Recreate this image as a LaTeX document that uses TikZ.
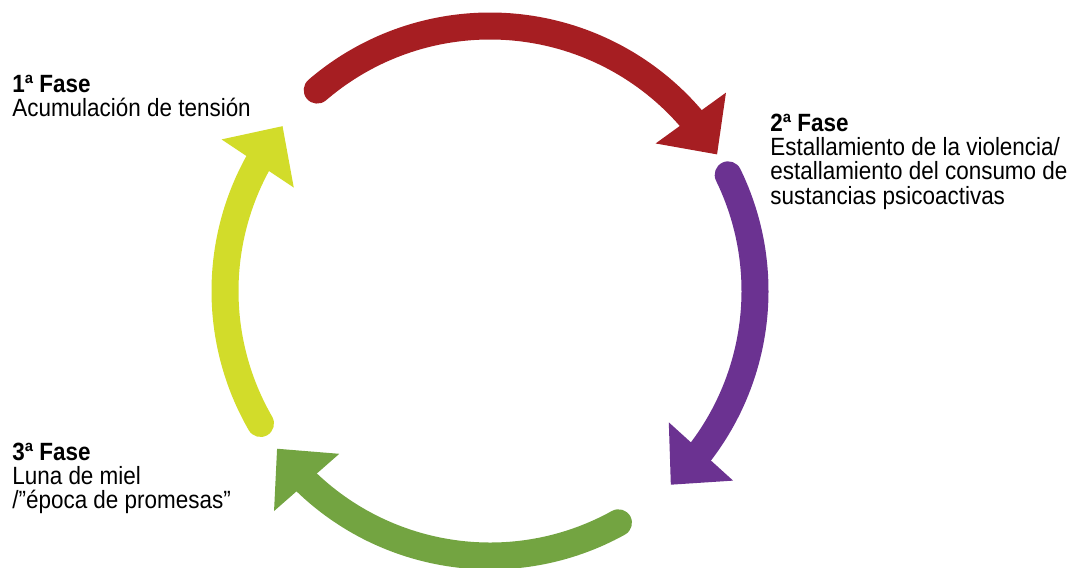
\documentclass[tikz,border=0pt]{standalone}
\usepackage{fontspec}
\setmainfont{Liberation Sans}[FakeStretch=0.9]
\usetikzlibrary{arrows.meta,bending}
\definecolor{rojo}{RGB}{166,30,34}
\definecolor{morado}{RGB}{107,50,145}
\definecolor{verde}{RGB}{115,164,65}
\definecolor{amarillo}{RGB}{210,220,42}
\tikzstyle{fase}=[anchor=north west,inner sep=0pt,align=left,font=\fontsize{14.2}{13.7}\selectfont]
\tikzstyle{flecha}=[line width=0.54cm,line cap=round,-{Triangle[length=0.9cm,width=1.68cm]}]
\begin{document}
\begin{tikzpicture}
\useasboundingbox (-9.8,-5.52) rectangle (11.76,5.82);
\def\R{5.3}
% labels
\node[fase] (f1) at (-9.56,4.32) {\textbf{1ª Fase}\\Acumulación de tensión};
\node[fase] (f2) at (5.6,3.54) {\textbf{2ª Fase}\\Estallamiento de la violencia/\\estallamiento del consumo de\\sustancias psicoactivas};
\node[fase] (f3) at (-9.56,-3.04) {\textbf{3ª Fase}\\Luna de miel\\/”época de promesas”};
% cycle
\coordinate (a1) at (130.7:\R);
\coordinate (a2) at (26:\R);
\coordinate (a3) at (-61:\R);
\coordinate (a4) at (210:\R);
\draw[flecha,rojo] (a1) arc[start angle=130.7,end angle=31,radius=\R];
\draw[flecha,morado] (a2) arc[start angle=26,end angle=-47,radius=\R];
\draw[flecha,verde] (a3) arc[start angle=-61,end angle=-143.5,radius=\R];
\draw[flecha,amarillo] (a4) arc[start angle=210,end angle=141.5,radius=\R];
\end{tikzpicture}
\end{document}
